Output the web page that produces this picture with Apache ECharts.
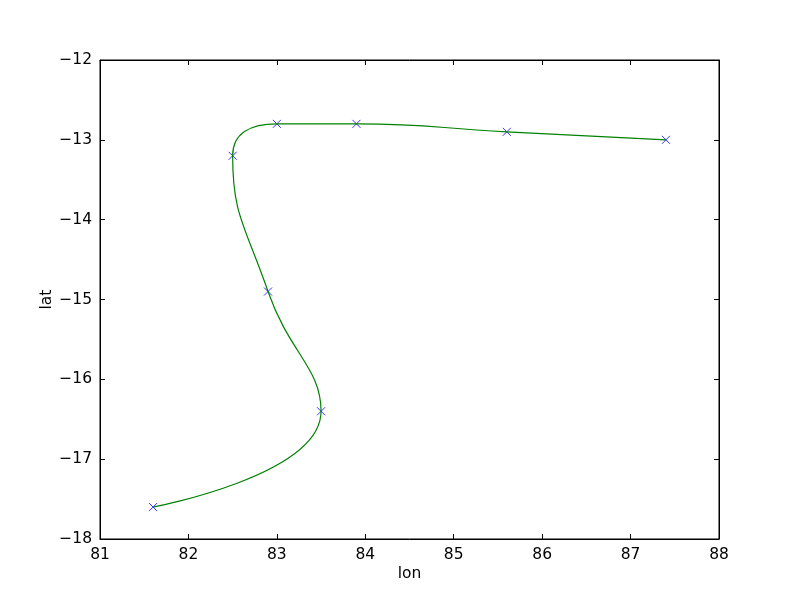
<!DOCTYPE html>
<html><head><meta charset="utf-8">
<script src="https://cdn.jsdelivr.net/npm/echarts@6/dist/echarts.min.js"></script>
<style>html,body{margin:0;padding:0;background:#fff}#c{width:800px;height:600px}</style>
</head><body><div id="c"></div>
<script>
const lon = [81.6, 83.5, 82.9, 82.5, 83.0, 83.9, 85.6, 87.4];
const lat = [-17.6, -16.4, -14.9, -13.2, -12.8, -12.8, -12.9, -13.0];
const xTicks = [81, 82, 83, 84, 85, 86, 87, 88];
const yTicks = [-18, -17, -16, -15, -14, -13, -12];

const pts = lon.map((v, i) => [v, lat[i]]);
const fmt = v => String(v).replace('-', '\u2212');
const font = {fontFamily: 'DejaVu Sans', fontSize: 15.5, color: '#000'};
const tick = {show: true, inside: true, length: 5, lineStyle: {color: '#000', width: 1}};

const chart = echarts.init(document.getElementById('c'));
chart.setOption({
  animation: false,
  grid: {left: 100, right: 81, top: 60, bottom: 61, show: true, borderColor: '#000', borderWidth: 1},
  xAxis: [
    {type: 'value', min: xTicks[0], max: xTicks[xTicks.length-1], interval: 1, position: 'bottom',
     name: 'lon', nameLocation: 'middle', nameGap: 27, nameMoveOverlap: false, nameTextStyle: font,
     axisLine: {show: true, lineStyle: {color: '#000'}}, axisTick: tick, splitLine: {show: false},
     axisLabel: Object.assign({margin: 8, formatter: fmt}, font)},
    {type: 'value', min: xTicks[0], max: xTicks[xTicks.length-1], interval: 1, position: 'top',
     axisLine: {show: true, lineStyle: {color: '#000'}}, axisTick: tick, splitLine: {show: false},
     axisLabel: {show: false}}
  ],
  yAxis: [
    {type: 'value', min: yTicks[0], max: yTicks[yTicks.length-1], interval: 1, position: 'left',
     name: 'lat', nameLocation: 'middle', nameGap: 45, nameMoveOverlap: false, nameRotate: 90, nameTextStyle: font,
     axisLine: {show: true, lineStyle: {color: '#000'}}, axisTick: tick, splitLine: {show: false},
     axisLabel: Object.assign({margin: 8, formatter: fmt}, font)},
    {type: 'value', min: yTicks[0], max: yTicks[yTicks.length-1], interval: 1, position: 'right',
     axisLine: {show: true, lineStyle: {color: '#000'}}, axisTick: tick, splitLine: {show: false},
     axisLabel: {show: false}}
  ],
  series: [
    {type: 'scatter', data: pts, symbol: 'path://M0,0L10,10M10,0L0,10', symbolSize: 8,
     itemStyle: {color: 'none', borderColor: '#0000ff', borderWidth: 1}, z: 2},
    {type: 'line', data: pts, smooth: 0.5, smoothMonotone: null, showSymbol: false, symbol: 'none',
     lineStyle: {color: '#008000', width: 1.2}, z: 3}
  ]
});
</script></body></html>
